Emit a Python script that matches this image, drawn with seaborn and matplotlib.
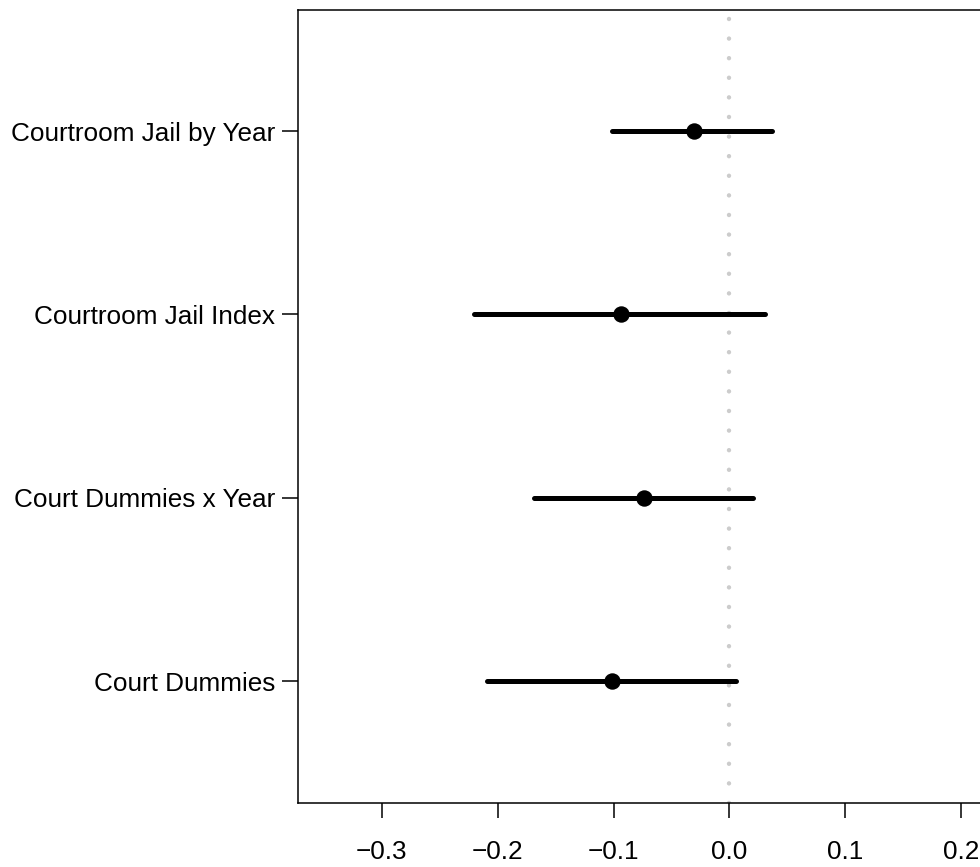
import pandas as pd
import seaborn as sns
import matplotlib
matplotlib.use("Agg")
import matplotlib.pyplot as plt

# Estimaciones y intervalos
models = ["Courtroom Jail by Year", "Courtroom Jail Index",
          "Court Dummies x Year", "Court Dummies"]
estimate = [-0.031, -0.094, -0.074, -0.101]
ci_low = [-0.101, -0.220, -0.169, -0.209]
ci_high = [0.037, 0.031, 0.020, 0.006]
xticks = [-0.3, -0.2, -0.1, 0.0, 0.1, 0.2]

df = pd.DataFrame({"model": models, "est": estimate, "lo": ci_low, "hi": ci_high})
df["pos"] = list(range(len(models), 0, -1))

sns.set_style("ticks")
plt.rcParams["font.family"] = ["Liberation Sans", "DejaVu Sans"]

fig = plt.figure(figsize=(9.8, 8.67), dpi=100)
ax = fig.add_axes([0.3044, 0.0742, 0.7356, 0.9143])

# linea vertical en cero
ax.axvline(0, color="#cccccc", lw=3.2, linestyle=(0, (0.01, 4.4)),
           dash_capstyle="round", zorder=1)

ax.hlines(df["pos"], df["lo"], df["hi"], color="black", lw=3.6,
          capstyle="round", zorder=2)
sns.scatterplot(data=df, x="est", y="pos", ax=ax, color="black", s=140,
                edgecolor="black", linewidth=0, zorder=3)

ax.set_xlim(-0.372, 0.25)
ax.set_ylim(0.338, 4.66)
ax.set_xticks(xticks)
ax.set_xticklabels([f"{t:.1f}".replace("-", "\u2212") for t in xticks])
ax.set_yticks(df["pos"])
ax.set_yticklabels(df["model"])
ax.set_xlabel("")
ax.set_ylabel("")

for s in ax.spines.values():
    s.set_linewidth(1.1)
    s.set_color("black")
ax.tick_params(axis="x", length=10.8, width=1.1, pad=16, labelsize=18.8, colors="black")
ax.tick_params(axis="y", length=11.5, width=1.1, pad=5, labelsize=18.8, colors="black")

fig.savefig("out.png", dpi=100)
